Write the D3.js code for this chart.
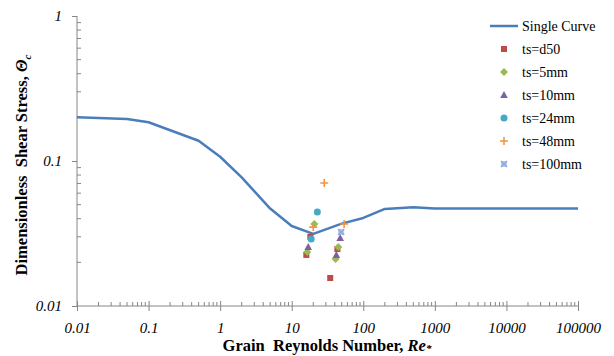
<!doctype html>
<html>
<head>
<meta charset="utf-8"/>
<title>Shields curve</title>
<script src="https://d3js.org/d3.v7.min.js"></script>
<style>
body { margin: 0; background: #fff; }
text { font-family: "Liberation Serif", "Times New Roman", serif; white-space: pre; }
</style>
</head>
<body>
<svg id="svg1"></svg>
<script>
// single curve (Re*, theta_c)
const curve_re    = [0.01, 0.05, 0.1, 0.5, 1, 2, 5, 10, 20, 50, 100, 200, 500, 1000, 100000];
const curve_theta = [0.2, 0.195, 0.185, 0.138, 0.107, 0.077, 0.047, 0.0356, 0.0314, 0.037, 0.0405, 0.0467, 0.048, 0.047, 0.047];

// measured points per roughness series
const series_names = ['ts=d50', 'ts=5mm', 'ts=10mm', 'ts=24mm', 'ts=48mm', 'ts=100mm'];
const d50_re     = [18.2, 16, 43.5, 34.5];
const d50_theta  = [0.030, 0.0225, 0.0247, 0.0156];
const mm5_re     = [20.7, 16.5, 44.7, 41];
const mm5_theta  = [0.0368, 0.0236, 0.0255, 0.0211];
const mm10_re    = [17, 47.6, 42];
const mm10_theta = [0.0255, 0.0294, 0.0225];
const mm24_re    = [22.8, 18.7];
const mm24_theta = [0.0445, 0.029];
const mm48_re    = [28.5, 20, 54];
const mm48_theta = [0.0705, 0.035, 0.0368];
const mm100_re    = [49];
const mm100_theta = [0.0324];

const x_ticks = [0.01, 0.1, 1, 10, 100, 1000, 10000, 100000];
const x_tick_labels = ['0.01', '0.1', '1', '10', '100', '1000', '10000', '100000'];
const y_ticks = [0.01, 0.1, 1];
const y_tick_labels = ['0.01', '0.1', '1'];

const width = 614, height = 356;
const m_left = 77, m_right = 578, m_top = 16, m_bottom = 306;
const axis_color = '#868686';

const svg = d3.select('#svg1').attr('width', width).attr('height', height);

const x = d3.scaleLog().domain([0.01, 100000]).range([m_left, m_right]);
const y = d3.scaleLog().domain([0.01, 1]).range([m_bottom, m_top]);

// minor ticks (inside), 2..9 of each decade
function minors(lo, hi) {
    let out = [];
    for (let d = lo; d < hi * 0.99; d *= 10) {
        for (let k = 2; k <= 9; k++) out.push(d * k);
    }
    return out;
}

// x axis
const xAxis = d3.axisBottom(x).tickValues(x_ticks).tickSize(5)
    .tickFormat((d, i) => x_tick_labels[i]);
const gx = svg.append('g').attr('transform', `translate(0,${m_bottom})`).call(xAxis);
gx.selectAll('.minor')
    .data(minors(0.01, 100000))
    .enter().append('line').attr('class', 'minor')
    .attr('x1', d => x(d)).attr('x2', d => x(d))
    .attr('y1', 0).attr('y2', -4);
gx.selectAll('.tick line').attr('y1', -5);
gx.selectAll('line').attr('stroke', axis_color);
gx.select('.domain').attr('stroke', axis_color).attr('d', `M${m_left},0H${m_right}`);
gx.selectAll('.tick text')
    .attr('y', 16).attr('dy', '0.71em')
    .style('font-size', '15px').style('font-style', 'italic').attr('fill', '#000');

// y axis
const yAxis = d3.axisLeft(y).tickValues(y_ticks).tickSize(5)
    .tickFormat((d, i) => y_tick_labels[i]);
const gy = svg.append('g').attr('transform', `translate(${m_left},0)`).call(yAxis);
gy.selectAll('.minor')
    .data(minors(0.01, 1))
    .enter().append('line').attr('class', 'minor')
    .attr('x1', 0).attr('x2', 4)
    .attr('y1', d => y(d)).attr('y2', d => y(d));
gy.selectAll('line').attr('stroke', axis_color);
gy.select('.domain').attr('stroke', axis_color).attr('d', `M0,${m_top}V${m_bottom}`);
gy.selectAll('.tick text')
    .attr('x', -15)
    .style('font-size', '15px').style('font-style', 'italic').attr('fill', '#000');

// curve
const line = d3.line().x(d => x(d[0])).y(d => y(d[1]));
svg.append('path')
    .datum(d3.zip(curve_re, curve_theta))
    .attr('d', line)
    .attr('fill', 'none')
    .attr('stroke', '#4A7EBB')
    .attr('stroke-width', 2.5)
    .attr('stroke-linejoin', 'round');

// marker drawing
const colors = ['#BE4B48', '#98B954', '#7D60A0', '#46AAC5', '#F69240', '#8EA9DB'];
function marker(sel, type, color) {
    if (type === 0) {
        sel.append('rect').attr('x', -3).attr('y', -3).attr('width', 6).attr('height', 6).attr('fill', color);
    } else if (type === 1) {
        sel.append('path').attr('d', 'M0,-4L4,0L0,4L-4,0Z').attr('fill', color);
    } else if (type === 2) {
        sel.append('path').attr('d', 'M0,-4L3.8,3L-3.8,3Z').attr('fill', color);
    } else if (type === 3) {
        sel.append('circle').attr('r', 3.5).attr('fill', color);
    } else if (type === 4) {
        sel.append('path').attr('d', 'M-4,0H4M0,-4V4').attr('stroke', color).attr('stroke-width', 1.6);
    } else {
        sel.append('path').attr('d', 'M-3,-3L3,3M-3,3L3,-3').attr('stroke', color).attr('stroke-width', 1.6);
        sel.append('rect').attr('x', -3).attr('y', -3).attr('width', 6).attr('height', 6)
            .attr('fill', color).attr('opacity', 0.6);
    }
}

const point_sets = [
    d3.zip(d50_re, d50_theta), d3.zip(mm5_re, mm5_theta), d3.zip(mm10_re, mm10_theta),
    d3.zip(mm24_re, mm24_theta), d3.zip(mm48_re, mm48_theta), d3.zip(mm100_re, mm100_theta)
];
point_sets.forEach((pts, i) => {
    svg.append('g').selectAll('g').data(pts).enter().append('g')
        .attr('transform', d => `translate(${x(d[0])},${y(d[1])})`)
        .each(function () { marker(d3.select(this), i, colors[i]); });
});

// legend
const leg = svg.append('g');
leg.append('line').attr('x1', 490).attr('x2', 518).attr('y1', 26).attr('y2', 26)
    .attr('stroke', '#4A7EBB').attr('stroke-width', 2.5);
leg.append('text').attr('x', 522).attr('y', 26).attr('dy', '0.35em')
    .style('font-size', '14px').text('Single Curve');
series_names.forEach((name, i) => {
    const yy = 49 + i * 23;
    const m = leg.append('g').attr('transform', `translate(504,${yy})`);
    marker(m, i, colors[i]);
    leg.append('text').attr('x', 522).attr('y', yy).attr('dy', '0.35em')
        .style('font-size', '14px').text(name);
});

// axis titles
const yt = svg.append('text')
    .attr('transform', 'translate(27,165) rotate(-90)')
    .attr('text-anchor', 'middle')
    .style('font-size', '16.5px').style('font-weight', 'bold');
yt.append('tspan').text('Dimensionless  Shear Stress, ');
yt.append('tspan').style('font-style', 'italic').text('Θ');
yt.append('tspan').style('font-style', 'italic').style('font-size', '11px').attr('dy', 4).text('c');

const xt = svg.append('text')
    .attr('x', 327).attr('y', 351)
    .attr('text-anchor', 'middle')
    .style('font-size', '16.5px').style('font-weight', 'bold');
xt.append('tspan').text('Grain  Reynolds Number, ');
xt.append('tspan').style('font-style', 'italic').text('Re');
xt.append('tspan').style('font-style', 'italic').style('font-size', '11px').attr('dy', 1).text('*');
</script>
</body>
</html>
